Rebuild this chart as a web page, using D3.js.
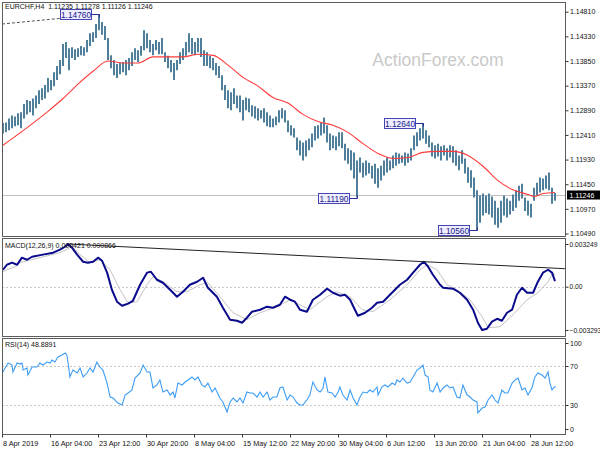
<!DOCTYPE html>
<html><head><meta charset="utf-8">
<script src="https://cdn.jsdelivr.net/npm/d3@7"></script>
<style>
body{margin:0;background:#fff}
svg{display:block}
text{font-family:Tahoma,"Liberation Sans",Arial,sans-serif}
</style></head>
<body><svg id="c" width="600" height="450"></svg>
<script>
// ---------------- DATA ----------------
const symbolTitle = "EURCHF,H4  1.11235 1.11278 1.11126 1.11246";
const macdTitle = "MACD(12,26,9) 0.000421 0.000866";
const rsiTitle = "RSI(14) 48.8891";
const lastPrice = 1.11246;

const barHigh = [1.1264,1.1265,1.1273,1.1279,1.1277,1.1283,1.1285,1.1301,1.1309,1.1307,
 1.1312,1.1318,1.1328,1.1332,1.1338,1.1352,1.1348,1.1363,1.1375,1.1387,
 1.1418,1.1422,1.1410,1.1412,1.1408,1.1410,1.1414,1.1412,1.1426,1.1439,
 1.1441,1.1457,1.1476,1.1461,1.1453,1.1430,1.1396,1.1387,1.1379,1.1381,
 1.1383,1.1387,1.1391,1.1402,1.1410,1.1406,1.1414,1.1445,1.1439,1.1426,
 1.1418,1.1426,1.1422,1.1430,1.1402,1.1395,1.1387,1.1381,1.1387,1.1402,
 1.1410,1.1422,1.1439,1.1430,1.1422,1.1430,1.1430,1.1406,1.1402,1.1395,
 1.1391,1.1381,1.1375,1.1357,1.1338,1.1328,1.1324,1.1332,1.1318,1.1318,
 1.1309,1.1314,1.1312,1.1299,1.1297,1.1293,1.1289,1.1293,1.1285,1.1279,
 1.1273,1.1277,1.1289,1.1293,1.1289,1.1269,1.1260,1.1254,1.1236,1.1230,
 1.1226,1.1230,1.1234,1.1244,1.1258,1.1260,1.1265,1.1275,1.1260,1.1244,
 1.1240,1.1238,1.1246,1.1246,1.1224,1.1215,1.1211,1.1207,1.1191,1.1197,
 1.1187,1.1191,1.1187,1.1181,1.1185,1.1176,1.1181,1.1191,1.1197,1.1191,
 1.1201,1.1207,1.1205,1.1201,1.1207,1.1205,1.1215,1.1240,1.1246,1.1254,
 1.1264,1.1250,1.1240,1.1226,1.1221,1.1224,1.1219,1.1221,1.1215,1.1221,
 1.1219,1.1211,1.1201,1.1211,1.1195,1.1178,1.1172,1.1158,1.1133,1.1123,
 1.1127,1.1123,1.1127,1.1121,1.1113,1.1099,1.1113,1.1123,1.1117,1.1113,
 1.1125,1.1133,1.1142,1.1146,1.1119,1.1113,1.1107,1.1138,1.1148,1.1158,
 1.1156,1.1162,1.1168,1.1138,1.1128];
const barLow = [1.1244,1.1246,1.1250,1.1254,1.1258,1.1260,1.1254,1.1273,1.1281,1.1285,
 1.1279,1.1293,1.1301,1.1309,1.1312,1.1324,1.1328,1.1336,1.1348,1.1359,
 1.1375,1.1391,1.1367,1.1391,1.1387,1.1393,1.1396,1.1395,1.1402,1.1414,
 1.1422,1.1430,1.1445,1.1436,1.1426,1.1387,1.1371,1.1357,1.1352,1.1359,
 1.1363,1.1357,1.1367,1.1375,1.1387,1.1383,1.1395,1.1406,1.1410,1.1402,
 1.1396,1.1406,1.1398,1.1398,1.1383,1.1371,1.1363,1.1348,1.1367,1.1379,
 1.1387,1.1395,1.1402,1.1398,1.1396,1.1402,1.1393,1.1375,1.1375,1.1371,
 1.1367,1.1357,1.1352,1.1328,1.1309,1.1293,1.1289,1.1301,1.1293,1.1285,
 1.1269,1.1289,1.1285,1.1277,1.1273,1.1269,1.1273,1.1265,1.1258,1.1256,
 1.1256,1.1260,1.1265,1.1273,1.1265,1.1246,1.1240,1.1236,1.1211,1.1201,
 1.1191,1.1199,1.1211,1.1217,1.1230,1.1234,1.1240,1.1244,1.1226,1.1211,
 1.1215,1.1211,1.1219,1.1215,1.1191,1.1185,1.1172,1.1156,1.1119,1.1168,
 1.1158,1.1162,1.1166,1.1156,1.1146,1.1138,1.1152,1.1162,1.1168,1.1172,
 1.1176,1.1181,1.1185,1.1187,1.1181,1.1187,1.1191,1.1211,1.1219,1.1230,
 1.1234,1.1224,1.1217,1.1199,1.1195,1.1199,1.1191,1.1201,1.1191,1.1197,
 1.1187,1.1181,1.1172,1.1185,1.1166,1.1148,1.1138,1.1119,1.1056,1.1070,
 1.1084,1.1089,1.1086,1.1080,1.1066,1.1060,1.1070,1.1084,1.1080,1.1086,
 1.1093,1.1099,1.1113,1.1117,1.1093,1.1084,1.1080,1.1113,1.1123,1.1129,
 1.1133,1.1136,1.1133,1.1107,1.1113];

const maIdx = [0,5,10,15,20,25,30,35,40,45,50,55,60,65,70,75,80,85,90,95,100,105,110,115,120,125,130,135,140,145,150,155,160,165,170,175,177,180,184];
const maVal = [1.1221,1.1242,1.1264,1.1287,1.1312,1.1340,1.1365,1.1385,1.1381,1.1381,1.1393,1.1393,1.1393,1.1398,1.1396,1.1377,1.1353,1.1336,1.1314,1.1303,1.1281,1.1267,1.1260,1.1246,1.1224,1.1205,1.1195,1.1197,1.1207,1.1209,1.1209,1.1201,1.1180,1.1152,1.1134,1.1125,1.1121,1.1127,1.1129];

const priceTicks = [1.14810,1.14330,1.13850,1.13370,1.12890,1.12410,1.11930,1.11450,1.10970,1.10490];

const annoLabels = ["1.14760","1.12640","1.11190","1.10560"];
const annoIdx = [32,140,118,158];
const annoPrice = [1.1476,1.1264,1.1119,1.1056];
const annoSide = ["high","high","low","low"];

const dashTrendIdx = [-0.33,19];
const dashTrendVal = [1.1457,1.1468];

const macdIdx = [0,1.3,3,4.7,6.3,8,9.7,13.3,16.7,19,20.7,21.7,23,24.7,26.7,28.3,30,31.7,33,34.7,36.3,38,39.7,41.7,43.3,45.7,48,49.3,51.3,53.3,55.7,58,60,62.3,64.7,66.7,68.3,71.3,73.3,75.7,78,79.7,81.3,83,85.7,88,90,92.3,94,95.7,97.3,99,101.3,103.3,105.7,108,110,112.3,114,115.7,117.3,118.3,120.7,123,124.7,126.7,129,132.3,134.7,136.7,139,140.3,141.7,143.3,145.7,146.7,150,152.3,154.7,156.7,158.3,159.7,161.3,163,164.7,166.3,168,169.7,171.3,173,174.7,176.7,178.3,180,181.7,183,184];
const macdVal = [0.00129,0.00167,0.00183,0.00167,0.00221,0.00205,0.00228,0.00244,0.00259,0.00282,0.00304,0.003249,0.00297,0.00244,0.00190,0.00183,0.00190,0.00221,0.00198,0.00107,-0.00023,-0.00114,-0.00145,-0.00129,-0.00107,0.00015,0.00107,0.00114,0.00053,0.00030,-0.00023,-0.00076,-0.00038,0.00015,0.00038,0.00068,-0.00008,-0.00076,-0.00160,-0.00251,-0.00259,-0.00274,-0.00236,-0.00190,-0.00175,-0.00152,-0.00160,-0.00137,-0.00076,-0.00099,-0.00114,-0.00175,-0.00190,-0.00099,-0.00061,-0.00015,-0.00046,-0.00068,-0.00061,-0.00099,-0.00175,-0.00221,-0.00198,-0.00160,-0.00122,-0.00114,-0.00061,0.00015,0.00053,0.00107,0.00167,0.00190,0.00152,0.00091,0.00015,-0.00008,-0.00015,-0.00046,-0.00099,-0.00175,-0.00274,-0.003293,-0.00320,-0.00266,-0.00244,-0.00259,-0.00198,-0.00175,-0.00061,-0.00008,-0.00046,-0.00046,0.00038,0.00107,0.00129,0.00107,0.00042];

const sigIdx = [0,1.3,4,5.7,12.3,19,23,25.7,29,32.3,35.7,39,41.7,44.7,48,50,53.3,58,61.3,65.7,68.3,72.3,76.7,81.3,85.7,91.3,95.7,99,102.3,108,111.3,115.7,119.7,123.3,129,134.7,139,141.3,144.7,148,151.3,155.7,159.7,161.7,165.7,170,174.7,178.3,181.7,183.3,184];
const sigVal = [0.00114,0.00129,0.00152,0.00183,0.00221,0.00259,0.00304,0.00244,0.00183,0.00205,0.00129,-0.00023,-0.00122,-0.00114,0.00015,0.00076,0.00038,-0.00038,-0.00038,0.00015,0.00030,-0.00076,-0.00198,-0.00251,-0.00198,-0.00152,-0.00099,-0.00137,-0.00175,-0.00076,-0.00038,-0.00076,-0.00175,-0.00190,-0.00099,0.00015,0.00129,0.00167,0.00129,0.00015,-0.00023,-0.00099,-0.00228,-0.00312,-0.00304,-0.00213,-0.00099,-0.00046,0.00038,0.00107,0.000866];

const macdTrendIdx = [21.7,187.3];
const macdTrendVal = [0.003249,0.00137];
const macdTicks = [0.003249,0,-0.003293];

const rsiPoints = [[0,64.2],[0.7,68.4],[1.7,73.6],[3,71.5],[3.3,64.2],[4.7,73.6],[5.7,72.5],[6.3,73.6],[6.7,66.3],[8,68.4],[8.3,61.1],[9.7,69.4],[11.3,69.4],[12.3,73.6],[13.3,71.5],[14.7,74.6],[15.7,73.6],[16.3,76.7],[17.3,74.6],[18.3,79.8],[19.7,81.9],[20.7,83.9],[21.3,81.9],[21.7,73.6],[22.3,59.1],[23.3,66.3],[24.7,63.2],[25.7,68.4],[26.7,59.1],[28,63.2],[29,68.4],[30,64.2],[31.3,74.6],[32.3,69.4],[33.3,66.3],[34.7,52.8],[35.7,38.3],[36.7,37.3],[38.3,32.1],[39.7,30.1],[40.7,40.4],[41.7,42.5],[43,45.6],[44,58.0],[45.7,63.2],[46.7,71.5],[48,64.2],[49,64.2],[50,47.7],[51.3,50.8],[52.3,56.0],[53.3,43.5],[54.7,45.6],[55.7,40.4],[56.7,43.5],[57.3,37.3],[58.3,52.8],[59.7,50.8],[60.7,53.9],[61.7,56.0],[63,59.1],[64,56.0],[65,59.1],[66.3,50.8],[67.3,48.7],[68.3,52.8],[69.7,43.5],[70.7,47.7],[72.3,37.3],[73.3,33.2],[74.7,22.8],[75.7,33.2],[76.7,37.3],[78,33.2],[79,37.3],[80,32.1],[81.3,43.5],[82.3,42.5],[83.3,42.5],[84.7,38.3],[85.7,43.5],[86.7,38.3],[88,43.5],[89,35.2],[90,38.3],[91.3,38.3],[92.3,47.7],[93.3,48.7],[94.7,35.2],[95.7,40.4],[96.7,38.3],[98,32.1],[99,30.1],[100,30.1],[101.3,35.2],[102.3,40.4],[103.3,53.9],[104.7,45.6],[105.7,43.5],[106.7,47.7],[107.3,59.1],[108.3,43.5],[109.7,42.5],[110.7,38.3],[111.7,43.5],[112.3,48.7],[113.3,40.4],[114.7,35.2],[115.7,45.6],[116.7,37.3],[118,30.1],[119,38.3],[120,43.5],[121.3,42.5],[122.3,45.6],[123.3,43.5],[124.7,48.7],[125,40.4],[126.3,48.7],[127.3,50.8],[128.3,48.7],[129.7,52.8],[130.7,50.8],[131.3,56.0],[132.3,53.9],[133.3,58.0],[134.7,52.8],[135.7,53.9],[136.7,59.1],[138,66.3],[139,68.4],[140,71.5],[140.7,61.1],[141.7,59.1],[142.3,45.6],[143.3,43.5],[144.7,52.8],[145.7,43.5],[146.7,47.7],[148,50.8],[149,47.7],[150,48.7],[151.3,38.3],[152.3,37.3],[153.3,50.8],[154.7,40.4],[155.7,38.3],[156.7,35.2],[158,33.2],[158.3,21.8],[159.7,26.9],[160.7,28.0],[161.7,35.2],[163,40.4],[164,35.2],[165,32.1],[166.3,45.6],[167.3,42.5],[168.3,42.5],[169.7,52.8],[170.7,56.0],[171.7,58.0],[173,45.6],[174,47.7],[175,40.4],[176.3,47.7],[177.3,59.1],[178.3,63.2],[179.7,61.1],[180.7,58.0],[181.7,64.2],[182.3,52.8],[183,45.6],[183.7,48.7],[184.3,48.9]];
const rsiTicks = [100,70,30,0];
const rsiLevels = [70,30];

const timeTickIdx = [-0.33,15.67,31.67,47.67,63.67,79.67,95.67,111.67,127.67,143.67,159.67,175.67];
const timeLabels = ["8 Apr 2019","16 Apr 04:00","23 Apr 12:00","30 Apr 20:00","8 May 04:00","15 May 12:00","22 May 20:00","30 May 04:00","6 Jun 12:00","13 Jun 20:00","21 Jun 04:00","28 Jun 12:00"];

// ---------------- LAYOUT ----------------
const svg = d3.select("#c");
const L = 2, R = 565;
const P = {main:{top:2,bot:236}, macd:{top:238,bot:336}, rsi:{top:338,bot:434}};
const FS = "7px";

const x = d3.scaleLinear().domain([0,184]).range([3,555]);
const yP = d3.scaleLinear().domain([1.1049,1.1481]).range([233.5,11.7]);
const yM = d3.scaleLinear().domain([-0.003293,0.003249]).range([330,244]);
const yR = d3.scaleLinear().domain([0,100]).range([434,337.5]);

svg.append("rect").attr("width",600).attr("height",450).attr("fill","#fff");

const defs = svg.append("defs");
Object.entries(P).forEach(([k,p])=>{
  defs.append("clipPath").attr("id","clip-"+k).append("rect")
    .attr("x",L+1).attr("y",p.top+1).attr("width",R-L-1).attr("height",p.bot-p.top-1);
});

// watermark
svg.append("text").attr("x",438).attr("y",65.5).attr("text-anchor","middle")
  .attr("font-size","17.5px").attr("fill","#c9c9c9")
  .style("font-family","'Liberation Sans',Arial,sans-serif").text("ActionForex.com");

// ---------- MAIN PANEL ----------
const gMain = svg.append("g").attr("clip-path","url(#clip-main)");
gMain.append("line").attr("x1",L).attr("x2",R).attr("y1",Math.round(yP(lastPrice))+0.5).attr("y2",Math.round(yP(lastPrice))+0.5)
  .attr("stroke","#c0c0c0").attr("stroke-width",1);
gMain.selectAll("line.bar").data(barHigh).join("line").attr("class","bar")
  .attr("x1",(d,i)=>x(i)).attr("x2",(d,i)=>x(i))
  .attr("y1",d=>yP(d)).attr("y2",(d,i)=>yP(barLow[i]))
  .attr("stroke","#4f7f9b").attr("stroke-width",2);
gMain.append("path").datum(maIdx.map((d,i)=>[d,maVal[i]]))
  .attr("d",d3.line().x(d=>x(d[0])).y(d=>yP(d[1])).curve(d3.curveMonotoneX))
  .attr("fill","none").attr("stroke","#ff3b3b").attr("stroke-width",1.1);
gMain.append("line").attr("x1",x(dashTrendIdx[0])).attr("x2",x(dashTrendIdx[1]))
  .attr("y1",yP(dashTrendVal[0])).attr("y2",yP(dashTrendVal[1]))
  .attr("stroke","#4d5a55").attr("stroke-dasharray","3,2").attr("stroke-width",1);

// annotations
const gAnno = svg.append("g");
annoLabels.forEach((lab,i)=>{
  const bx = x(annoIdx[i]);
  const by = Math.round(yP(annoPrice[i]))+0.5;
  const bw = 31, bh = 10;
  const right = Math.round(bx - 8);
  gAnno.append("rect").attr("x",right-bw+0.5).attr("y",by-bh/2).attr("width",bw).attr("height",bh)
    .attr("fill","#eeeeff").attr("stroke","#4545b5").attr("stroke-width",1);
  const dy = annoSide[i]==="high" ? 3 : -3;
  gAnno.append("path").attr("d",`M${right+0.5},${by}H${Math.round(bx)+0.5}V${by+dy}`)
    .attr("fill","none").attr("stroke","#2c2c9c").attr("stroke-width",1);
  gAnno.append("text").attr("x",right-bw/2+0.5).attr("y",by+3).attr("text-anchor","middle")
    .attr("font-size","8.3px").attr("fill","#20208a").text(lab);
});

// ---------- MACD PANEL ----------
const gMacd = svg.append("g").attr("clip-path","url(#clip-macd)");
gMacd.append("line").attr("x1",L).attr("x2",R).attr("y1",Math.round(yM(0))+0.5).attr("y2",Math.round(yM(0))+0.5)
  .attr("stroke","#c8c8c8").attr("stroke-dasharray","2,2");
gMacd.append("path").datum(sigIdx.map((d,i)=>[d,sigVal[i]]))
  .attr("d",d3.line().x(d=>x(d[0])).y(d=>yM(d[1])))
  .attr("fill","none").attr("stroke","#c4c4c4").attr("stroke-width",1);
gMacd.append("path").datum(macdIdx.map((d,i)=>[d,macdVal[i]]))
  .attr("d",d3.line().x(d=>x(d[0])).y(d=>yM(d[1])))
  .attr("fill","none").attr("stroke","#0a0a8c").attr("stroke-width",2).attr("stroke-linejoin","round");
gMacd.append("line").attr("x1",x(macdTrendIdx[0])).attr("x2",x(macdTrendIdx[1]))
  .attr("y1",yM(macdTrendVal[0])).attr("y2",yM(macdTrendVal[1]))
  .attr("stroke","#222").attr("stroke-width",1);

// ---------- RSI PANEL ----------
const gRsi = svg.append("g").attr("clip-path","url(#clip-rsi)");
rsiLevels.forEach(l=>{
  gRsi.append("line").attr("x1",L).attr("x2",R).attr("y1",Math.round(yR(l))+0.5).attr("y2",Math.round(yR(l))+0.5)
    .attr("stroke","#c8c8c8").attr("stroke-dasharray","2,2");
});
gRsi.append("path").datum(rsiPoints)
  .attr("d",d3.line().x(d=>x(d[0])).y(d=>yR(d[1])))
  .attr("fill","none").attr("stroke","#3d9df5").attr("stroke-width",1.1);

// ---------- FRAMES ----------
Object.values(P).forEach(p=>{
  svg.append("rect").attr("x",L+0.5).attr("y",p.top+0.5).attr("width",R-L).attr("height",p.bot-p.top)
    .attr("fill","none").attr("stroke","#5c5c5c").attr("stroke-width",1);
});

// ---------- AXES ----------
function styleAxis(g){
  g.select(".domain").remove();
  g.selectAll("line").attr("stroke","#333");
  g.selectAll("text").attr("font-size",FS).attr("fill","#111")
    .style("font-family","Tahoma,'Liberation Sans',Arial,sans-serif");
}
const axP = svg.append("g").attr("transform",`translate(${R+0.5},0)`)
  .call(d3.axisRight(yP).tickValues(priceTicks).tickFormat(d3.format(".5f")).tickSize(3).tickPadding(1.5));
styleAxis(axP);

const axM = svg.append("g").attr("transform",`translate(${R+0.5},0)`)
  .call(d3.axisRight(yM).tickValues(macdTicks).tickFormat(d=>d===0?"0.00":d3.format(".6f")(d)).tickSize(3).tickPadding(1));
styleAxis(axM);
axM.selectAll("text").attr("font-size","6.7px");

const axR = svg.append("g").attr("transform",`translate(${R+0.5},0)`)
  .call(d3.axisRight(yR).tickValues(rsiTicks).tickFormat(d3.format("d")).tickSize(3).tickPadding(1.5));
styleAxis(axR);
axR.selectAll(".tick").attr("transform",d=>{
  let yy = yR(d);
  if(d===100) yy = P.rsi.top+5;
  if(d===0) yy = P.rsi.bot-5;
  return `translate(0,${Math.round(yy)+0.5})`;
});

const axX = svg.append("g").attr("transform",`translate(0,${P.rsi.bot+0.5})`)
  .call(d3.axisBottom(x).tickValues(timeTickIdx).tickFormat((d,i)=>timeLabels[i]).tickSize(3).tickPadding(2));
styleAxis(axX);
axX.selectAll("text").attr("text-anchor","start").attr("dx","0.5").attr("dy","0.9em").attr("font-size","7.3px");

// last price tag
const ly = Math.round(yP(lastPrice));
svg.append("rect").attr("x",R+2).attr("y",ly-4.5).attr("width",33).attr("height",9).attr("fill","#000");
svg.append("text").attr("x",R+4.5).attr("y",ly+2.6).attr("font-size",FS).attr("fill","#fff").text(lastPrice.toFixed(5));

// ---------- TITLES ----------
svg.append("text").attr("x",5).attr("y",8.5).attr("font-size",FS).attr("fill","#111")
  .attr("xml:space","preserve").style("white-space","pre").text(symbolTitle);
svg.append("text").attr("x",5).attr("y",248).attr("font-size",FS).attr("fill","#111").text(macdTitle);
svg.append("text").attr("x",5).attr("y",347).attr("font-size",FS).attr("fill","#111").text(rsiTitle);
</script>
</body></html>
